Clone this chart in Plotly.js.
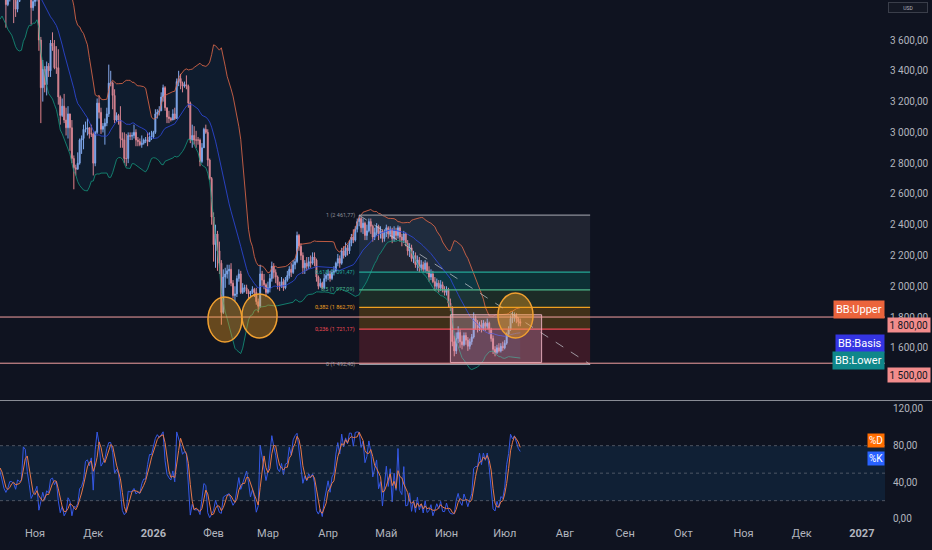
<!DOCTYPE html>
<html><head><meta charset="utf-8">
<script src="https://cdn.plot.ly/plotly-3.0.1.min.js"></script>
<style>html,body{margin:0;padding:0;background:#0f1320;}#chart{width:932px;height:550px;}</style>
</head><body><div id="chart"></div>
<script>
// ETHUSD daily, from 2025-09-24
const startDate = '2025-09-24';
const firstOpen = 4110;
const closes = [
4150,3875,4030,4010,4140,4215,4145,
4350,4480,4510,4485,4515,4690,4460,4520,4370,3830,3750,4160,4245,4130,3990,3890,3830,3890,3985,3980,3880,3800,3850,3930,3940,4160,4120,3980,3900,3810,3850,
3870,3900,3600,3290,3410,3310,3430,3400,3580,3560,3420,3420,3230,3110,3170,3080,3030,3120,3030,2830,2770,2760,2800,2950,2960,3020,3020,3030,2990,2990,
2800,3000,3190,3130,3020,3040,3060,3120,3320,3320,3240,3080,3110,3080,2960,2950,2830,2830,2980,2975,2980,3000,2950,2940,2920,2930,2950,2950,2940,2970,2970,
3000,3120,3130,3140,3230,3290,3160,3100,3090,3080,3120,3090,3330,3350,3320,3300,3310,3300,3190,2950,2980,2950,2950,2950,2810,2900,3020,3000,2820,2700,2450,
2270,2340,2230,2150,1830,2060,2080,2100,2110,2020,1940,1950,2050,2080,1960,1990,1990,1970,1950,1960,1980,1960,1900,1870,2080,2040,2010,1960,
1990,2050,2130,2090,2060,2010,2000,2030,1990,2040,2070,2110,2090,2140,2160,2330,2260,2200,2120,2150,2130,2160,2150,2190,2170,2060,2000,2020,1990,2050,2070,
2080,2050,2090,2100,2150,2180,2150,2230,2200,2250,2230,2280,2320,2300,2370,2420,2440,2380,2410,2330,2360,2420,2390,2320,2350,2390,2340,2360,2310,2350,
2380,2340,2370,2310,2360,2330,2380,2320,2300,2340,2280,2230,2250,2180,2200,2140,2170,2120,2140,2110,2150,2100,2060,2080,2030,2000,2020,1990,2010,1980,1960,
1980,1890,1860,1640,1580,1660,1700,1640,1620,1680,1650,1610,1640,1670,1790,1760,1730,1750,1720,1760,1740,1760,1720,1660,1590,1570,1600,1580,1610,1600,
1630,1690,1720,1790,1800,1810,1790,1770,1760
];
const highs = [
4200,4170,4050,4070,4150,4240,4240,
4360,4510,4590,4540,4590,4760,4750,4560,4530,4390,3880,4190,4290,4260,4210,4100,3900,3920,4020,4080,4100,3910,3880,3960,3960,4170,4260,4180,4020,3930,3880,
3890,3920,3910,3620,3470,3430,3460,3450,3600,3650,3600,3560,3540,3240,3220,3250,3160,3170,3120,3080,2850,2790,2870,2960,2980,3050,3070,3090,3030,3050,
3000,3010,3220,3240,3160,3060,3090,3160,3440,3400,3330,3280,3130,3120,3170,3000,3000,2990,3000,3000,3000,3050,3020,2970,2960,2980,2960,2970,3000,3000,3010,
3010,3150,3150,3170,3260,3310,3300,3160,3140,3100,3150,3160,3350,3400,3380,3330,3330,3370,3310,3200,3050,3040,3010,2970,2960,2930,3030,3050,3020,2830,2710,
2480,2400,2360,2290,2170,2110,2120,2140,2140,2150,2040,2000,2070,2110,2100,2020,2010,2010,1980,1970,2000,1990,1990,1920,2140,2100,2080,2020,
2030,2080,2160,2150,2110,2070,2030,2060,2050,2060,2100,2130,2150,2170,2180,2355,2340,2280,2220,2170,2190,2190,2200,2220,2220,2180,2070,2050,2030,2080,2090,
2110,2100,2110,2130,2160,2210,2200,2250,2260,2285,2270,2300,2340,2370,2390,2440,2461.77,2450,2440,2420,2400,2440,2440,2400,2380,2410,2400,2390,2370,2370,
2400,2390,2390,2380,2390,2380,2395,2390,2340,2360,2350,2300,2280,2270,2230,2220,2200,2190,2170,2160,2170,2160,2130,2110,2100,2060,2050,2040,2040,2030,2000,
2000,1990,1920,1870,1680,1700,1740,1720,1680,1700,1700,1670,1660,1690,1830,1810,1780,1770,1780,1780,1770,1790,1770,1730,1680,1610,1620,1630,1630,1640,
1650,1700,1740,1810,1837,1830,1825,1800,1790
];
const lows = [
4080,3850,3820,3990,3970,4090,4100,
4140,4320,4400,4450,4460,4500,4440,4410,4290,3450,3680,3730,4080,3910,3940,3880,3680,3820,3850,3920,3710,3750,3780,3850,3890,3940,4110,3920,3880,3700,3790,
3820,3850,3530,3060,3200,3260,3240,3360,3360,3530,3410,3380,3180,3050,3100,3060,2980,2960,2880,2800,2630,2720,2760,2790,2860,2890,3000,2980,2960,2970,
2720,2780,2990,3090,2990,3000,2920,3040,3100,3300,3150,3060,3070,3050,2900,2900,2800,2780,2800,2950,2950,2960,2910,2910,2910,2900,2920,2930,2910,2940,2950,
2960,2990,3090,3110,3140,3200,3140,3060,3060,3070,3080,3080,3090,3300,3280,3260,3290,3280,3160,2930,2900,2920,2900,2920,2780,2800,2900,2990,2780,2690,2400,
2160,2120,2100,2080,1750,1820,1990,2050,2010,2000,1920,1900,1930,2030,1950,1950,1960,1950,1920,1930,1950,1930,1880,1830,1860,2000,1980,1930,
1950,1960,2030,2050,2020,1980,1970,1990,1970,1980,2030,2050,2060,2080,2110,2150,2230,2170,2080,2080,2100,2110,2120,2140,2130,2030,1980,1990,1980,1980,2030,
2040,2030,2040,2070,2090,2130,2120,2140,2180,2190,2200,2210,2260,2280,2290,2350,2390,2350,2340,2300,2300,2350,2340,2290,2300,2330,2300,2310,2285,2290,
2320,2310,2320,2280,2290,2300,2310,2290,2260,2280,2260,2200,2190,2160,2150,2120,2100,2090,2100,2090,2090,2080,2030,2040,2020,1970,1980,1960,1970,1960,1940,
1940,1860,1840,1610,1545,1560,1630,1600,1590,1610,1620,1580,1590,1620,1660,1720,1700,1710,1700,1710,1710,1720,1690,1640,1560,1545,1560,1570,1570,1580,
1590,1620,1670,1710,1760,1770,1760,1740,1740
];

// axis labels
const monthTicks = ['2025-11-01','2025-12-01','2026-01-01','2026-02-01','2026-03-01','2026-04-01','2026-05-01','2026-06-01','2026-07-01','2026-08-01','2026-09-01','2026-10-01','2026-11-01','2026-12-01','2027-01-01'];
const monthLabels = ['Ноя','Дек','<b>2026</b>','Фев','Мар','Апр','Май','Июн','Июл','Авг','Сен','Окт','Ноя','Дек','<b>2027</b>'];
const priceTicks = [1600,1800,2000,2200,2400,2600,2800,3000,3200,3400,3600];
const oscTicks = [0,40,80,120];

// drawings
const fibStart = '2026-04-17', fibEnd = '2026-08-14';
const fibHigh = 2461.77, fibLow = 1492.4;
const fibLevels = [1, 0.618, 0.5, 0.382, 0.236, 0];
const fibNames = ['1','0,618','0,5','0,382','0,236','0'];
const fibColors = ['#8d9099','#22a897','#4cb58a','#f0a020','#f04a55','#9598a1'];
const fibFills = ['rgba(120,123,134,0.17)','rgba(8,153,129,0.22)','rgba(90,160,70,0.18)','rgba(255,160,0,0.20)','rgba(242,54,69,0.20)'];
const hLines = [1800, 1500];
const boxStart = '2026-06-03', boxEnd = '2026-07-20', boxTop = 1815, boxBottom = 1505;
const circles = [
  ['2026-01-29 02:00','2026-02-15 14:00',1638,1930],
  ['2026-02-15 14:00','2026-03-05 17:00',1664,1950],
  ['2026-06-27 12:00','2026-07-15 14:00',1664,1956]
];

// derived
const DAY = 86400000;
const t0 = Date.parse(startDate + 'T00:00:00Z');
const dates = closes.map((_, i) => new Date(t0 + i * DAY).toISOString().slice(0, 10));
const opens = closes.map((c, i) => i === 0 ? firstOpen : closes[i - 1]);

const N = 20, KK = 2;
const bbX = [], bbU = [], bbM = [], bbL = [];
for (let i = N - 1; i < closes.length; i++) {
  const w = closes.slice(i - N + 1, i + 1);
  const m = w.reduce((a, b) => a + b, 0) / N;
  const sd = Math.sqrt(w.reduce((a, b) => a + (b - m) * (b - m), 0) / N);
  bbX.push(dates[i]); bbM.push(m); bbU.push(m + KK * sd); bbL.push(m - KK * sd);
}
const P = 14;
const kX = [], kV = [];
for (let i = P - 1; i < closes.length; i++) {
  const hh = Math.max(...highs.slice(i - P + 1, i + 1));
  const ll = Math.min(...lows.slice(i - P + 1, i + 1));
  kX.push(dates[i]); kV.push(100 * (closes[i] - ll) / (hh - ll));
}
const dV = kV.map((v, i) => i < 2 ? null : (kV[i] + kV[i - 1] + kV[i - 2]) / 3);

function fmtNum(v) {
  const s = v.toFixed(2).split('.');
  return s[0].replace(/\B(?=(\d{3})+(?!\d))/g, ' ') + ',' + s[1];
}

const traces = [
  {x: bbX, y: bbU, type: 'scatter', mode: 'lines', line: {width: 0, color: 'rgba(0,0,0,0)'}, hoverinfo: 'skip'},
  {x: bbX, y: bbL, type: 'scatter', mode: 'lines', line: {width: 0, color: 'rgba(0,0,0,0)'}, fill: 'tonexty', fillcolor: 'rgba(33,150,243,0.07)', hoverinfo: 'skip'},
  {x: dates, open: opens, high: highs, low: lows, close: closes, type: 'candlestick',
   increasing: {line: {color: '#86a8ea', width: 1}, fillcolor: '#86a8ea'},
   decreasing: {line: {color: '#e4828a', width: 1}, fillcolor: '#e4828a'},
   whiskerwidth: 0, hoverinfo: 'skip'},
  {x: bbX, y: bbU, type: 'scatter', mode: 'lines', line: {width: 1, color: 'rgba(232,108,74,0.8)'}, hoverinfo: 'skip'},
  {x: bbX, y: bbM, type: 'scatter', mode: 'lines', line: {width: 1, color: 'rgba(45,70,215,0.85)'}, hoverinfo: 'skip'},
  {x: bbX, y: bbL, type: 'scatter', mode: 'lines', line: {width: 1, color: 'rgba(20,150,125,0.8)'}, hoverinfo: 'skip'},
  {x: kX, y: kV, type: 'scatter', mode: 'lines', xaxis: 'x', yaxis: 'y2', line: {width: 1, color: '#3558e6'}, hoverinfo: 'skip'},
  {x: kX, y: dV, type: 'scatter', mode: 'lines', xaxis: 'x', yaxis: 'y2', line: {width: 1, color: '#e8784a'}, hoverinfo: 'skip'}
];

const fibPrice = l => fibLow + (fibHigh - fibLow) * l;
const shapes = [];
const annotations = [];
for (let i = 0; i < fibLevels.length - 1; i++) {
  shapes.push({type: 'rect', xref: 'x', yref: 'y', x0: fibStart, x1: fibEnd, y0: fibPrice(fibLevels[i + 1]), y1: fibPrice(fibLevels[i]), fillcolor: fibFills[i], line: {width: 0}, layer: 'below'});
}
fibLevels.forEach((l, i) => {
  shapes.push({type: 'line', xref: 'x', yref: 'y', x0: fibStart, x1: fibEnd, y0: fibPrice(l), y1: fibPrice(l), line: {width: 1.2, color: fibColors[i]}});
  annotations.push({xref: 'x', yref: 'y', x: fibStart, y: fibPrice(l), xanchor: 'right', yanchor: 'middle', xshift: -2, showarrow: false,
    text: fibNames[i] + ' (' + fmtNum(fibPrice(l)) + ')', font: {size: 5.5, color: fibColors[i]}});
});
shapes.push({type: 'line', xref: 'x', yref: 'y', x0: fibStart, x1: fibEnd, y0: fibHigh, y1: fibLow, line: {width: 1, color: 'rgba(200,202,210,0.7)', dash: 'dash'}});
shapes.push({type: 'rect', xref: 'x', yref: 'y', x0: boxStart, x1: boxEnd, y0: boxBottom, y1: boxTop, fillcolor: 'rgba(240,175,200,0.27)', line: {width: 1, color: 'rgba(245,185,200,0.85)'}});
hLines.forEach(v => shapes.push({type: 'line', xref: 'paper', yref: 'y', x0: 0, x1: 1, y0: v, y1: v, line: {width: 1, color: '#f3a0a0'}}));
circles.forEach(c => shapes.push({type: 'circle', xref: 'x', yref: 'y', x0: c[0], x1: c[1], y0: c[2], y1: c[3], fillcolor: 'rgba(245,160,30,0.38)', line: {width: 1.5, color: '#f0a030'}, layer: 'above'}));
// oscillator band
shapes.push({type: 'rect', xref: 'paper', yref: 'y2', x0: 0, x1: 1, y0: 20, y1: 80, fillcolor: 'rgba(33,150,243,0.1)', line: {width: 0}, layer: 'below'});
[80, 50, 20].forEach(v => shapes.push({type: 'line', xref: 'paper', yref: 'y2', x0: 0, x1: 1, y0: v, y1: v, line: {width: 1, color: 'rgba(120,123,134,0.6)', dash: 'dot'}}));
// pane separator
shapes.push({type: 'line', xref: 'paper', yref: 'paper', x0: 0, x1: 1.06, y0: 0.2371, y1: 0.2371, line: {width: 1, color: '#8c8f98'}});

const lab = (text, y, yref, bg, opts) => Object.assign({xref: 'paper', yref: yref, x: 1, y: y, xanchor: 'right', yanchor: 'middle', showarrow: false,
  text: text, bgcolor: bg, borderpad: 2, font: {size: 11, color: '#ffffff'}}, opts || {});
annotations.push(lab('BB:Upper', 1846, 'y', '#eb643c'));
annotations.push(lab('BB:Basis', 1625, 'y', '#3434e2'));
annotations.push(lab('BB:Lower', 1517, 'y', '#0f878a'));
annotations.push(lab('%D', 86, 'y2', '#ff6d00', {font: {size: 10, color: '#ffffff'}, borderpad: 1}));
annotations.push(lab('%K', 66.5, 'y2', '#2962ff', {font: {size: 10, color: '#ffffff'}, borderpad: 1}));
annotations.push({xref: 'paper', yref: 'y', x: 1.002, y: 1800, yshift: -8, xanchor: 'left', yanchor: 'middle', showarrow: false,
  text: fmtNum(1800), bgcolor: '#f28c8c', borderpad: 1.5, font: {size: 10, color: '#131722'}});
annotations.push({xref: 'paper', yref: 'y', x: 1.002, y: 1500, yshift: -12, xanchor: 'left', yanchor: 'middle', showarrow: false,
  text: fmtNum(1500), bgcolor: '#f28c8c', borderpad: 1.5, font: {size: 10, color: '#131722'}});
annotations.push({xref: 'paper', yref: 'paper', x: 1.026, y: 0.985, xanchor: 'center', yanchor: 'middle', showarrow: false,
  text: 'USD', bgcolor: '#141824', bordercolor: '#3a3e4a', borderwidth: 1, width: 36, height: 7, font: {size: 5, color: '#b2b5be'}});

const layout = {
  width: 932, height: 550,
  margin: {l: 0, r: 47, t: 0, b: 25},
  paper_bgcolor: '#0f1320', plot_bgcolor: '#0f1320',
  separators: ', ',
  font: {family: 'Roboto, "Noto Sans", sans-serif', color: '#b2b5be', size: 11},
  showlegend: false,
  xaxis: {type: 'date', range: ['2025-10-13 23:00', '2027-01-12 22:00'], anchor: 'y2',
    tickvals: monthTicks, ticktext: monthLabels, showgrid: false, zeroline: false, showline: false,
    ticks: '', rangeslider: {visible: false}, tickfont: {size: 11, color: '#b2b5be'}, fixedrange: true},
  yaxis: {domain: [0.2381, 1], range: [1261, 3860], side: 'right', anchor: 'x', tickvals: priceTicks, tickformat: ',.2f',
    tickfont: {size: 10, color: '#b2b5be'},
    showgrid: false, zeroline: false, showline: false, ticks: 'outside', ticklen: 2, tickcolor: 'rgba(0,0,0,0)', fixedrange: true},
  yaxis2: {domain: [0, 0.2362], range: [-6.55, 128.73], side: 'right', anchor: 'x', tickvals: oscTicks, tickformat: ',.2f',
    tickfont: {size: 10, color: '#b2b5be'},
    showgrid: false, zeroline: false, showline: false, ticks: 'outside', ticklen: 5, tickcolor: 'rgba(0,0,0,0)', fixedrange: true},
  shapes: shapes,
  annotations: annotations
};

Plotly.newPlot('chart', traces, layout, {displayModeBar: false, staticPlot: true});
</script>
</body></html>
